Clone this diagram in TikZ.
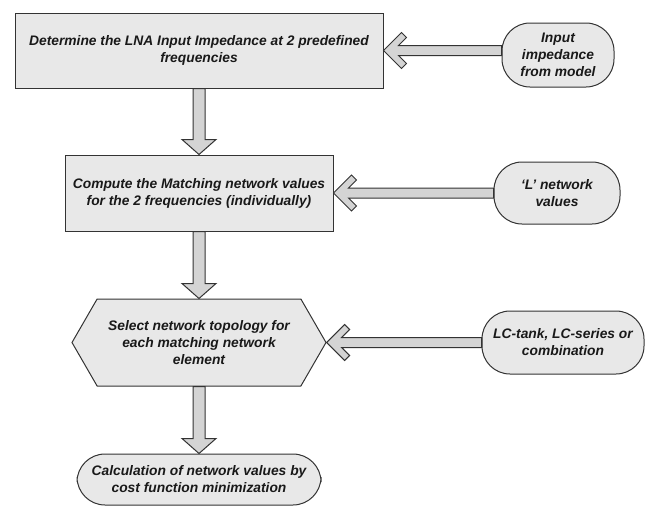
\documentclass[tikz,border=0pt]{standalone}
\usepackage{fontspec}
\setmainfont{Liberation Sans}
\usetikzlibrary{calc, shapes.symbols}
\definecolor{boxgray}{HTML}{E8E8E8}
\definecolor{arrowgray}{HTML}{D4D4D4}
\definecolor{edgegray}{HTML}{333333}

% block arrow down, from #1 to #2
\newcommand{\dnarrow}[2]{%
  \draw[blkarrow] ($(#1.south)+(-6,0)$) -- ($(#2.north)+(-6,-15)$) -- ++(-11,0)
    -- (#2.north) -- ++(17,-15) -- ++(-11,0) -- ($(#1.south)+(6,0)$) -- cycle;}
% block arrow with chevron head, from #1 (right) to #2 (left)
\newcommand{\inarrow}[2]{%
  \draw[blkarrow] (#2.east) -- ++(18,-18) -- ++(5,5) -- ++(-8,8)
    -- ($(#1.west |- #2.east)+(0,-5)$) -- ++(0,10) -- ($(#2.east)+(15,5)$)
    -- ++(8,8) -- ++(-5,5) -- cycle;}

\begin{document}
\begin{tikzpicture}[x=1pt, y=-1pt,
  every node/.style={font=\fontsize{13.8}{17}\selectfont\bfseries\itshape,
    align=center, inner sep=0pt, text=black!90},
  stepbox/.style={draw=edgegray, fill=boxgray, line width=1pt},
  inbox/.style={draw=edgegray, fill=boxgray, line width=1pt, rounded corners=28pt},
  hexbox/.style={stepbox, signal, signal to=west and east, signal pointer angle=120},
  blkarrow/.style={draw=edgegray, fill=arrowgray, line width=1pt, line join=miter}]
  \useasboundingbox (0,0) rectangle (648,506);

  % Main steps
  \node[stepbox, minimum width=368, minimum height=75] (lna) at (199,50.5)
    {Determine the LNA Input Impedance at 2 predefined\\ frequencies};
  \node[stepbox, minimum width=268, minimum height=76] (match) at (199,193)
    {Compute the Matching network values\\ for the 2 frequencies (individually)};
  \node[hexbox, minimum width=254, minimum height=87] (topo) at (199,342.5)
    {Select network topology for\\ each matching network\\ element};
  \node[inbox, minimum width=244, minimum height=51] (cost) at (199,479.5)
    {Calculation of network values by\\ cost function minimization};

  % Inputs on the right
  \node[inbox, minimum width=112, minimum height=64] (model) at (558,55)
    {Input\\ impedance\\ from model};
  \node[inbox, minimum width=126, minimum height=62] (lnet) at (557,193)
    {`L' network\\ values};
  \node[inbox, minimum width=162, minimum height=63] (tank) at (563,342.5)
    {LC-tank, LC-series or\\ combination};

  % Arrows
  \dnarrow{lna}{match}
  \dnarrow{match}{topo}
  \dnarrow{topo}{cost}
  \inarrow{model}{lna}
  \inarrow{lnet}{match}
  \inarrow{tank}{topo}
\end{tikzpicture}
\end{document}
